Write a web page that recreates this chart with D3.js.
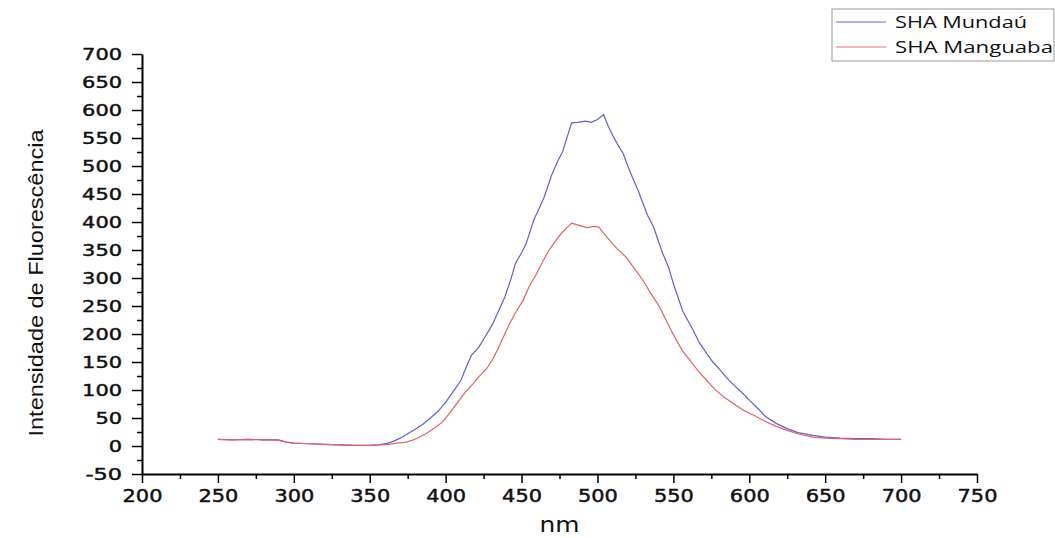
<!DOCTYPE html>
<html>
<head>
<meta charset="utf-8">
<script src="https://cdn.jsdelivr.net/npm/d3@7"></script>
<style>
  body { margin: 0; background: #fff; }
  svg { display: block; }
</style>
</head>
<body>
<div id="chart"></div>
<script>
// wavelength (nm) / intensity pairs
const mundauNm = [250, 260, 270, 280, 290, 295, 300, 310, 320, 330, 340, 350, 356, 362, 367, 370, 375, 380, 385, 390,
  395, 400, 405, 410, 415, 417, 422, 426, 431, 435, 439, 443, 446, 450, 453, 458, 462, 465, 470, 474,
  477, 481, 483, 487, 492, 496, 500, 504, 507, 510, 513, 517, 520, 523, 527, 530, 533, 537, 540, 543,
  547, 550, 553, 556, 560, 563, 567, 572, 576, 581, 585, 589, 595, 600, 606, 611, 618, 625, 632, 642,
  650, 660, 670, 680, 690, 700];
const mundauVal = [12, 11, 12, 11, 11, 7, 5, 4, 3, 2, 1, 1, 2, 5, 10, 14, 22, 30, 39, 50,
  62, 78, 97, 117, 150, 162, 177, 195, 218, 242, 266, 298, 326, 345, 361, 403, 427, 445, 485, 510,
  525, 560, 577, 578, 580, 578, 583, 592, 572, 555, 540, 522, 500, 480, 455, 433, 412, 391, 367, 344,
  318, 290, 266, 242, 222, 207, 185, 165, 150, 135, 122, 111, 96, 82, 66, 52, 40, 31, 24, 19,
  16, 14, 13, 13, 12, 12];

const manguabaNm = [250, 260, 270, 280, 290, 295, 300, 310, 320, 330, 340, 350, 356, 362, 368, 374, 380, 387, 392, 398,
  403, 409, 413, 418, 422, 427, 431, 434, 438, 442, 446, 451, 455, 460, 464, 468, 472, 476, 480, 483,
  488, 493, 498, 501, 504, 508, 513, 519, 524, 530, 535, 541, 546, 552, 556, 561, 566, 572, 577, 583,
  590, 596, 603, 609, 617, 625, 633, 642, 650, 660, 670, 680, 690, 700];
const manguabaVal = [12, 11, 12, 11, 10, 7, 5, 4, 3, 2, 1, 1, 2, 3, 5, 7, 12, 22, 31, 43,
  60, 82, 96, 111, 124, 138, 155, 171, 194, 218, 238, 260, 285, 308, 330, 349, 365, 379, 390, 398,
  394, 390, 392, 391, 380, 367, 352, 337, 318, 296, 273, 248, 220, 189, 170, 153, 135, 117, 102, 88,
  75, 64, 55, 46, 36, 28, 21, 16, 14, 13, 12, 12, 12, 12];

const seriesNames = ["SHA Mundaú", "SHA Manguaba"];
const xTicks = [200, 250, 300, 350, 400, 450, 500, 550, 600, 650, 700, 750];
const yTicks = [-50, 0, 50, 100, 150, 200, 250, 300, 350, 400, 450, 500, 550, 600, 650, 700];

const W = 1055, H = 538;
const plotL = 142, plotR = 977, plotT = 54, plotB = 474;

const svg = d3.select("#chart").append("svg")
  .attr("width", W).attr("height", H);

const x = d3.scaleLinear().domain([200, 750]).range([plotL, plotR]);
const y = d3.scaleLinear().domain([-50, 700]).range([plotB, plotT]);

const series = [
  {name: seriesNames[0], nm: mundauNm, val: mundauVal, color: "#5f5fd6", legend: "#9a9ae6"},
  {name: seriesNames[1], nm: manguabaNm, val: manguabaVal, color: "#e06464", legend: "#e8a2a2"}
];

// wide labels: width per char
const labelWidth = s => s.split("").reduce((a, c) => a + (c === "-" ? 10 : 13.3), 0);

// minor ticks
const xMinor = d3.range(225, 750, 50);
const yMinor = d3.range(-25, 700, 50);

svg.append("g")
  .attr("transform", `translate(0,${plotB})`)
  .call(d3.axisBottom(x).tickValues(xMinor).tickSize(5).tickFormat(""))
  .call(g => g.select(".domain").remove())
  .selectAll("line").attr("stroke-width", 1.5);

svg.append("g")
  .attr("transform", `translate(${plotL},0)`)
  .call(d3.axisLeft(y).tickValues(yMinor).tickSize(5).tickFormat(""))
  .call(g => g.select(".domain").remove())
  .selectAll("line").attr("stroke-width", 1.5);

const styleTickText = sel => sel
  .attr("font-family", "DejaVu Sans")
  .attr("fill", "#111")
  .attr("stroke", "#111")
  .attr("stroke-width", 0.45)
  .attr("textLength", d => labelWidth(String(d)))
  .attr("lengthAdjust", "spacingAndGlyphs");

const xAxis = svg.append("g")
  .attr("transform", `translate(0,${plotB})`)
  .call(d3.axisBottom(x).tickValues(xTicks).tickFormat(d => String(d))
    .tickSize(9).tickSizeOuter(0).tickPadding(14));
xAxis.select(".domain").attr("stroke-width", 2);
xAxis.selectAll("line").attr("stroke-width", 1.5);
xAxis.selectAll("text")
  .call(styleTickText)
  .attr("font-size", 17)
  .attr("y", 28).attr("dy", 0);

const yAxis = svg.append("g")
  .attr("transform", `translate(${plotL},0)`)
  .call(d3.axisLeft(y).tickValues(yTicks).tickFormat(d => String(d))
    .tickSize(10).tickSizeOuter(0).tickPadding(10));
yAxis.select(".domain").attr("stroke-width", 2);
yAxis.selectAll("line").attr("stroke-width", 1.5);
yAxis.selectAll("text")
  .call(styleTickText)
  .attr("font-size", 16)
  .attr("x", -20).attr("dy", "0.36em");

// axis titles
svg.append("text")
  .attr("x", (plotL + plotR) / 2).attr("y", 532)
  .attr("text-anchor", "middle")
  .attr("font-family", "DejaVu Sans")
  .attr("font-size", 21)
  .attr("fill", "#111")
  .attr("textLength", 40).attr("lengthAdjust", "spacingAndGlyphs")
  .text("nm");

svg.append("text")
  .attr("transform", "translate(43,283) rotate(-90)")
  .attr("text-anchor", "middle")
  .attr("font-family", "Liberation Sans Narrow, Liberation Sans, sans-serif")
  .attr("font-size", 21)
  .attr("fill", "#111")
  .attr("textLength", 307).attr("lengthAdjust", "spacingAndGlyphs")
  .text("Intensidade de Fluorescência");

// curves
const line = d3.line().x(d => x(d[0])).y(d => y(d[1]));
series.forEach(s => {
  svg.append("path")
    .datum(s.nm.map((n, i) => [n, s.val[i]]))
    .attr("fill", "none")
    .attr("stroke", s.color)
    .attr("stroke-width", 1.2)
    .attr("d", line);
});

// legend
const legend = svg.append("g");
legend.append("rect")
  .attr("x", 832).attr("y", 9).attr("width", 222).attr("height", 52)
  .attr("fill", "#fff").attr("stroke", "#9a9a9a").attr("stroke-width", 1);
const legendW = [132, 158];
series.forEach((s, i) => {
  const ly = 22 + i * 25;
  legend.append("line")
    .attr("x1", 836).attr("x2", 886).attr("y1", ly).attr("y2", ly)
    .attr("stroke", s.legend).attr("stroke-width", 1.3);
  legend.append("text")
    .attr("x", 895).attr("y", ly + 6)
    .attr("font-family", "Open Sans")
    .attr("font-size", 17)
    .attr("fill", "#111")
    .attr("textLength", legendW[i]).attr("lengthAdjust", "spacingAndGlyphs")
    .text(s.name);
});
</script>
</body>
</html>
